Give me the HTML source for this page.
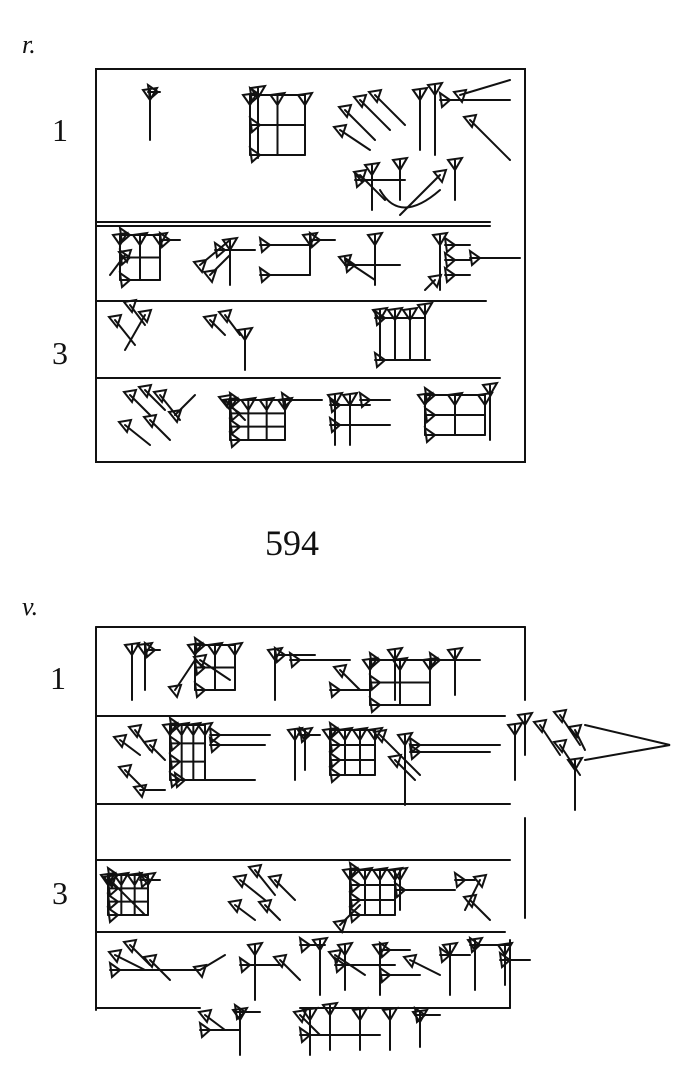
<!DOCTYPE html>
<html><head><meta charset="utf-8"><style>
html,body{margin:0;padding:0;background:#fff;}
body{width:689px;height:1092px;position:relative;overflow:hidden;font-family:"Liberation Serif",serif;}
.t{position:absolute;color:#111;}
svg{position:absolute;left:0;top:0;}
</style></head><body>
<svg id="s" width="689" height="1092" viewBox="0 0 689 1092" stroke="#111" stroke-width="2" fill="none" stroke-linecap="round">
<rect x="96" y="69" width="429" height="393"/>
<line x1="96" y1="222" x2="490" y2="222"/>
<line x1="96" y1="226" x2="490" y2="226"/>
<line x1="96" y1="301" x2="486" y2="301"/>
<line x1="96" y1="378" x2="500" y2="378"/>
<line x1="96" y1="627" x2="525" y2="627"/>
<line x1="96" y1="627" x2="96" y2="1010"/>
<line x1="525" y1="627" x2="525" y2="700"/>
<line x1="96" y1="716" x2="505" y2="716"/>
<line x1="96" y1="804" x2="510" y2="804"/>
<line x1="525" y1="818" x2="525" y2="918"/>
<line x1="96" y1="860" x2="510" y2="860"/>
<line x1="96" y1="932" x2="505" y2="932"/>
<line x1="510" y1="940" x2="510" y2="1008"/>
<line x1="96" y1="1008" x2="200" y2="1008"/>
<line x1="300" y1="1008" x2="510" y2="1008"/>
<g id="w"></g>
</svg>
<div class="t" style="left:22px;top:30px;font-size:26px;font-style:italic">r.</div>
<div class="t" style="left:52px;top:112px;font-size:32px;">1</div>
<div class="t" style="left:52px;top:335px;font-size:32px;">3</div>
<div class="t" style="left:265px;top:522px;font-size:36px;">594</div>
<div class="t" style="left:22px;top:592px;font-size:26px;font-style:italic">v.</div>
<div class="t" style="left:50px;top:660px;font-size:32px;">1</div>
<div class="t" style="left:52px;top:875px;font-size:32px;">3</div>
<script>
var g=document.getElementById('w'),h='';
function V(x,y,l){h+='<path d="M'+(x-7)+' '+y+'L'+(x+7)+' '+(y-2)+'L'+x+' '+(y+10)+'Z M'+x+' '+y+'L'+x+' '+(y+l)+'"/>';}
function H(x,y,l){h+='<path d="M'+x+' '+(y-7)+'L'+(x+2)+' '+(y+7)+'L'+(x+10)+' '+y+'Z M'+x+' '+y+'L'+(x+l)+' '+y+'"/>';}
function D(x,y,dx,dy){h+='<path d="M'+(x-6)+' '+(y-3)+'L'+(x+6)+' '+(y-5)+'L'+(x+2)+' '+(y+7)+'Z M'+x+' '+y+'L'+(x+dx)+' '+(y+dy)+'"/>';}
function BOX(x,y,w,hh,n){H(x,y,w);H(x,y+hh,w);V(x,y,hh);V(x+w,y,hh);for(var i=1;i<n;i++){V(x+w*i/n,y,hh);H(x,y+hh*i/n,w);}}
// top line 1
V(150,90,50);H(148,92,12);
BOX(250,95,55,60,2);V(258,88,70);
D(345,110,30,30);D(360,100,30,30);D(375,95,30,30);D(340,130,30,20);V(420,90,60);V(435,85,70);H(440,100,70);D(470,120,40,40);D(460,95,50,-15);
D(360,175,25,25);V(372,165,45);H(355,180,50);V(400,160,40);V(455,160,40);D(440,175,-40,40);h+='<path d="M380 190 Q400 225 440 190"/>';
// line 2
BOX(120,235,40,45,2);D(125,255,-15,20);H(160,240,20);
D(200,265,30,-25);D(210,275,20,-20);H(215,250,40);V(230,240,45);H(260,245,50);H(260,275,50);V(310,235,40);H(310,240,25);
D(345,260,30,20);V(375,235,50);H(345,265,55);V(440,235,55);H(445,245,25);H(445,260,25);H(445,275,25);H(470,258,50);D(435,280,-10,10);
// line 3
D(115,320,20,25);D(130,305,15,20);D(145,315,-20,35);
D(210,320,15,15);D(225,315,15,20);V(245,330,40);
V(380,310,50);V(395,310,50);V(410,310,50);V(425,305,55);H(375,318,50);H(375,360,55);
// line 4
D(130,395,20,20);D(145,390,20,20);D(160,395,20,25);D(125,425,25,20);D(150,420,20,20);D(175,415,20,-20);
BOX(230,400,55,40,3);D(225,400,20,20);H(282,400,40);
V(335,395,50);V(350,395,50);H(330,405,40);H(330,425,60);H(360,400,30);
BOX(425,395,60,40,2);V(490,385,55);
// bottom line 1
V(132,645,55);V(145,645,45);H(145,650,15);
D(175,690,20,-30);BOX(195,645,40,45,2);D(200,660,30,20);
V(275,650,50);H(275,655,40);H(290,660,60);H(330,690,40);D(340,670,20,20);
BOX(370,660,60,45,2);V(395,650,50);H(430,660,50);V(455,650,45);
// bottom line 2
D(120,740,20,15);D(135,730,15,20);D(150,745,15,15);D(125,770,20,20);D(140,790,25,0);
BOX(170,725,35,55,3);H(210,735,60);H(210,745,55);H(175,780,80);
V(295,730,50);V(305,730,40);H(300,735,20);
BOX(330,730,45,45,3);D(380,735,40,40);V(405,735,70);H(410,745,90);H(410,752,80);D(395,760,20,20);
V(515,725,55);V(525,715,40);D(540,725,20,30);D(560,715,20,30);D(560,745,20,30);D(575,730,10,20);V(575,760,50);h+='<path d="M585 725 L670 745 L585 760"/>';
// bottom line 4 (3 label)
BOX(108,875,40,40,3);D(110,880,35,35);H(140,880,20);
D(240,880,25,20);D(255,870,20,25);D(275,880,20,20);D(235,905,20,15);D(265,905,15,15);
BOX(350,870,45,45,3);V(400,870,40);H(395,890,60);D(340,925,20,-20);H(455,880,20);D(480,880,-15,30);D(470,900,20,20);
// bottom line 5
D(115,955,30,15);D(130,945,20,20);D(150,960,20,20);H(110,970,90);D(200,970,25,-15);
V(255,945,55);H(240,965,40);D(280,960,20,20);V(320,940,55);H(300,945,25);
D(335,955,30,20);V(345,945,45);H(335,965,60);V(380,945,50);H(380,950,30);H(380,975,40);D(410,960,30,15);
V(450,945,50);H(440,955,30);V(475,940,50);H(470,945,40);V(505,945,40);H(500,960,30);
// extra line
D(205,1015,20,15);H(200,1030,40);V(240,1010,45);H(235,1012,25);
V(310,1010,45);D(300,1015,20,20);H(300,1035,80);V(330,1005,45);V(360,1010,40);V(390,1010,40);V(420,1012,35);H(415,1015,25);
g.innerHTML=h;
</script>
</body></html>
